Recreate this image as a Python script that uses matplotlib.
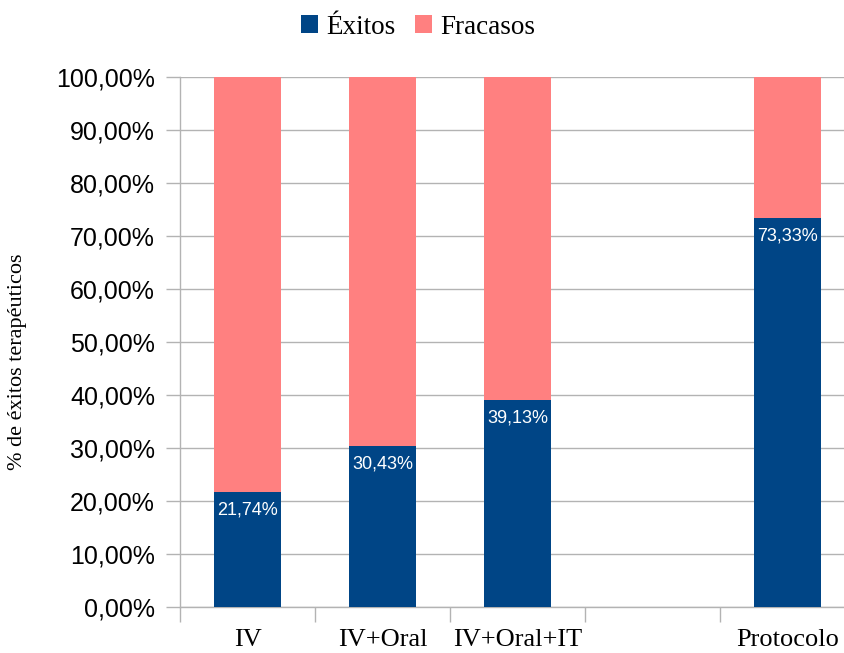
import numpy as np
import matplotlib
matplotlib.use("Agg")
import matplotlib.pyplot as plt
from matplotlib.ticker import FixedLocator, FuncFormatter

categories = ["IV", "IV+Oral", "IV+Oral+IT", "", "Protocolo"]
exitos = [21.74, 30.43, 39.13, np.nan, 73.33]
fracasos = [100 - v if not np.isnan(v) else np.nan for v in exitos]

BLUE = "#004586"
PINK = "#ff8080"
GRID = "#b3b3b3"

fig = plt.figure(figsize=(8.45, 6.53), dpi=100)
ax = fig.add_axes([180 / 845, 46 / 653, 675 / 845, 530 / 653])

x = np.arange(len(categories))
ex = np.nan_to_num(exitos)
fr = np.nan_to_num(fracasos)
ax.bar(x, ex, width=0.5, color=BLUE, label="Éxitos", zorder=3)
ax.bar(x, fr, width=0.5, bottom=ex, color=PINK, label="Fracasos", zorder=3)

for xi, v in zip(x, exitos):
    if np.isnan(v):
        continue
    ax.annotate(f"{v:.2f}%".replace(".", ","), xy=(xi, v), xytext=(0, -18),
                textcoords="offset pixels",
                ha="center", va="center", color="white", fontsize=13,
                family="Liberation Sans", zorder=4)

ax.set_xlim(-0.5, len(categories) - 0.5)
ax.set_ylim(0, 100)

ax.set_yticks(np.arange(0, 101, 10))
ax.yaxis.set_major_formatter(FuncFormatter(lambda v, p: f"{v:.2f}%".replace(".", ",")))
ax.grid(axis="y", color=GRID, linewidth=1, zorder=0)

ax.set_xticks(x)
ax.set_xticklabels(categories, family="Liberation Serif", fontsize=19)
ax.xaxis.set_minor_locator(FixedLocator(np.arange(-0.5, len(categories), 1.0)))
ax.tick_params(axis="x", which="major", length=0, pad=16)
ax.tick_params(axis="x", which="minor", length=11, color=GRID, width=1)
ax.tick_params(axis="y", length=10, color=GRID, width=1, pad=8)
for lab in ax.get_yticklabels():
    lab.set_family("Liberation Sans")
    lab.set_fontsize(18)

for s in ["top", "right"]:
    ax.spines[s].set_visible(False)
for s in ["left", "bottom"]:
    ax.spines[s].set_color(GRID)
    ax.spines[s].set_linewidth(1)

fig.text(18 / 845, 1 - 362 / 653, "% de éxitos terapéuticos", rotation=90,
         ha="center", va="center", family="Liberation Serif", fontsize=16)

fig.legend(loc="center", bbox_to_anchor=(418 / 845, 1 - 27 / 653), ncol=2,
           frameon=False, prop={"family": "Liberation Serif", "size": 19.5},
           handlelength=0.65, handleheight=0.65, handletextpad=0.3,
           columnspacing=0.7)

fig.savefig("out.png", dpi=100)
